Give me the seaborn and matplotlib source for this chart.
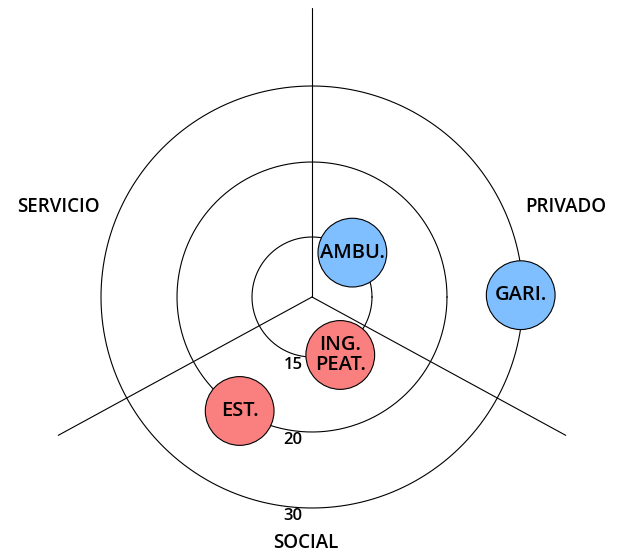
import numpy as np
import pandas as pd
import matplotlib
matplotlib.use('Agg')
import matplotlib.pyplot as plt
import seaborn as sns

# ring values and their radius on the drawing (px-like units)
ring_vals = [15, 20, 30]
ring_rad = [60, 135, 211]

# sector names and axis directions (degrees)
sectores = ['SERVICIO', 'PRIVADO', 'SOCIAL']
sector_ang = [160.5, 19.5, 268.5]
axis_ang = [90, 208.6, 331.4]

# bubbles: label, group, angle, value on the ring scale
etiquetas = ['AMBU.', 'GARI.', 'ING.\nPEAT.', 'EST.']
grupos = ['azul', 'azul', 'rojo', 'rojo']
angulos = [47.7, 0.5, -64.0, 237.6]
valores = [15.0, 29.7, 15.3, 20.0]


def radio(v):
    return np.interp(v, [0] + ring_vals, [0] + ring_rad)


def datos():
    df = pd.DataFrame({'etiqueta': etiquetas, 'grupo': grupos,
                       'ang': angulos, 'valor': valores})
    r = radio(df.valor)
    df['x'] = r * np.cos(np.radians(df.ang))
    df['y'] = r * np.sin(np.radians(df.ang))
    return df


def viz(df):
    sns.set_style('white')
    plt.rcParams['font.family'] = ['Open Sans', 'DejaVu Sans']
    plt.rcParams['text.color'] = 'black'
    fig = plt.figure(figsize=(6.21, 5.55), dpi=100)
    ax = fig.add_axes([0, 0, 1, 1])
    ax.set_xlim(-312, 309)
    ax.set_ylim(-258, 297)
    ax.axis('off')

    t = np.linspace(0, 2 * np.pi, 400)
    for v, rr in zip(ring_vals, ring_rad):
        ax.plot(rr * np.cos(t), rr * np.sin(t), color='black', lw=0.8, zorder=1)
        ax.text(-19, -rr - 8, str(v), ha='center', va='center', fontsize=12,
                fontweight='semibold', zorder=3)

    for a in axis_ang:
        ax.plot([0, 289 * np.cos(np.radians(a))], [0, 289 * np.sin(np.radians(a))],
                color='black', lw=0.8, zorder=1)

    for nombre, a in zip(sectores, sector_ang):
        d = 269 if nombre != 'SOCIAL' else 246
        ax.text(d * np.cos(np.radians(a)), d * np.sin(np.radians(a)), nombre,
                ha='center', va='center', fontsize=13.5, fontweight='semibold')

    sns.scatterplot(data=df, x='x', y='y', hue='grupo',
                    palette={'azul': '#80bfff', 'rojo': '#fa8080'},
                    s=2450, edgecolor='black', linewidth=0.8, legend=False,
                    ax=ax, zorder=2)
    ax.set_xlabel('')
    ax.set_ylabel('')
    for _, row in df.iterrows():
        ax.text(row.x, row.y, row.etiqueta, ha='center', va='center',
                fontsize=14.5, fontweight='semibold', linespacing=1.0, zorder=3)
    ax.axis('off')
    return fig


if __name__ == '__main__':
    fig = viz(datos())
    fig.savefig('out.png', dpi=100)
